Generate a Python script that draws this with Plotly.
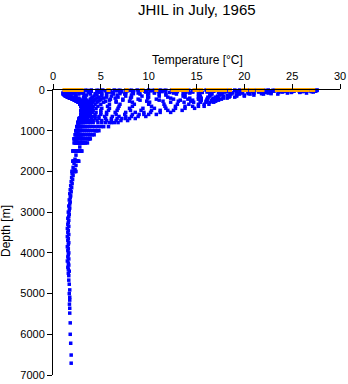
import plotly.graph_objects as go

# Standard observation depths (m) for the first group of casts
std_depths = [0, 10, 20, 30, 50, 75, 100, 150, 200, 250, 300, 400, 500, 600, 700, 800, 1000, 1200, 1500, 2000]

# Temperature (°C) per cast at std_depths (None = not observed)
cast_temps = [
    [27.6, 27.6, 27.5, 27.4, 27.2, 26.5, 23.5, 20.0, 18.2, 17.3, 16.8, 15.8, 13.5, 10.8, 8.6, 6.8, 4.8, 3.9, 3.0, 2.4],
    [27.0, 26.9, 26.7, 26.4, 25.8, 24.5, 22.0, 19.2, 17.8, 17.0, 16.4, 15.2, 12.6, 10.0, 8.0, 6.4, 4.6, 3.8, 3.0, 2.3],
    [26.2, 26.0, 25.7, 25.2, 24.0, 22.5, 20.6, 18.5, 17.3, 16.6, 16.0, 14.6, 12.0, 9.5, 7.6, 6.1, 4.5, 3.7, 2.9, 2.3],
    [25.3, 25.1, 24.8, 24.2, 22.8, 21.0, 19.5, 17.8, 16.8, 16.1, 15.4, 13.8, 11.2, 9.0, 7.2, 5.9, 4.4, 3.6, 2.8, 2.2],
    [24.4, 24.2, 23.8, 23.1, 21.5, 19.8, 18.6, 17.2, 16.2, 15.5, 14.7, 12.8, 10.3, 8.3, 6.7, 5.5, 4.2, 3.4, 2.7, 2.2],
    [23.5, 23.2, 22.7, 22.0, 20.4, 18.8, 17.6, 16.4, 15.5, 14.6, 13.7, 11.7, 9.2, 7.5, 6.1, 5.1, 3.9, 3.3, 2.7, 2.1],
    [22.5, 22.2, 21.6, 20.8, 19.2, 17.7, 16.6, 15.4, 14.3, 13.3, 12.3, 10.3, 8.1, 6.6, 5.5, 4.7, 3.7, 3.1, 2.6, 2.1],
    [21.5, 21.2, 20.5, 19.6, 17.9, 16.4, 15.2, 13.6, 12.3, 11.1, 10.1, 8.3, 6.7, 5.6, 4.8, 4.2, 3.5, 3.0, 2.5, 2.0],
    [20.5, 20.0, 19.2, 18.2, 16.1, 14.3, 12.9, 11.1, 9.9, 9.1, 8.3, 6.9, 5.8, 5.0, 4.4, 3.9, 3.3, 2.9, 2.5, 2.0],
    [19.5, 19.0, 18.0, 16.8, 14.6, 12.6, 11.1, 9.3, 8.1, 7.3, 6.6, 5.7, 5.0, 4.4, 4.0, 3.7, 3.1, 2.8, 2.4, None],
    [18.4, 17.8, 16.8, 15.3, 12.9, 10.6, 9.1, 7.6, 6.5, 5.9, 5.3, 4.7, 4.2, 3.9, 3.6, 3.4, 2.9, 2.6, 2.3, None],
    [17.2, 16.5, 15.2, 13.8, 11.1, 8.9, 7.5, 6.1, 5.3, 4.9, 4.6, 4.2, 3.9, 3.6, 3.4, 3.2, 2.8, 2.5, 2.2, None],
    [16.0, 15.2, 14.0, 12.4, 9.7, 7.6, 6.3, 5.1, 4.6, 4.3, 4.1, 3.9, 3.7, 3.5, 3.3, 3.1, 2.7, 2.5, 2.2, None],
    [14.8, 14.0, 12.8, 11.0, 8.3, 6.3, 5.1, 4.3, 4.0, 3.9, 3.8, 3.7, 3.6, 3.4, 3.2, 3.0, 2.7, 2.4, 2.2, None],
    [13.6, 12.8, 11.4, 9.6, 7.1, 5.1, 3.9, 3.3, 3.4, 3.5, 3.6, 3.6, 3.5, 3.3, 3.1, 2.9, 2.6, 2.4, 2.1, None],
    [12.4, 11.6, 10.2, 8.4, 5.9, 3.9, 2.7, 2.3, 2.7, 3.1, 3.3, 3.4, 3.4, 3.2, 3.0, 2.8, 2.6, 2.3, 2.1, None],
    [11.2, 10.4, 9.0, 7.2, 4.7, 2.9, 1.9, 1.7, 2.3, 2.8, 3.1, 3.3, 3.3, 3.1, 2.9, 2.7, 2.5, 2.3, 2.1, None],
    [10.0, 9.2, 7.8, 6.0, 3.7, 2.1, 1.4, 1.5, 2.1, 2.6, 2.9, 3.2, 3.2, 3.0, 2.8, 2.7, 2.5, 2.3, None, None],
    [8.8, 8.0, 6.6, 5.0, 2.9, 1.6, 1.2, 1.4, 1.9, 2.4, 2.8, 3.1, 3.1, 2.9, 2.8, 2.6, 2.4, 2.2, None, None],
    [7.6, 6.8, 5.5, 4.0, 2.3, 1.3, 1.1, 1.3, 1.8, 2.3, 2.7, 3.0, 3.0, 2.9, 2.8, 2.6, 2.4, 2.2, None, None],
    [6.4, 5.8, 4.6, 3.2, 1.9, 1.2, 1.1, 1.3, 1.7, 2.2, 2.6, 2.9, 2.9, 2.9, 2.7, 2.6, 2.4, None, None, None],
    [5.2, 4.8, 3.8, 2.6, 1.6, 1.1, 1.1, 1.4, 1.8, 2.3, 2.7, 3.0, 3.0, 2.9, 2.8, 2.6, 2.4, None, None, None],
    [4.0, 3.6, 2.8, 2.0, 1.4, 1.1, 1.2, 1.5, 1.9, 2.4, 2.8, 3.0, 3.1, 2.9, 2.8, 2.6, None, None, None, None],
    [2.8, 2.6, 2.2, 1.7, 1.3, 1.1, 1.2, 1.6, 2.0, 2.5, 2.9, 3.1, 3.1, 3.0, 2.8, 2.6, None, None, None, None],
    [1.6, 1.5, 1.4, 1.3, 1.2, 1.1, 1.3, 1.7, 2.1, 2.6, 3.0, 3.2, 3.2, 3.0, 2.8, 2.7, None, None, None, None],
]

# Observation depths (m) for the second group of casts
alt_depths = [5, 40, 60, 90, 125, 175, 225, 275, 350, 450, 550, 650, 750, 900, 1100, 1300, 1750]

# Temperature (°C) per cast at alt_depths
alt_temps = [
    [27.3, 27.0, 25.8, 22.8, 21.0, 19.0, 17.6, 17.0, 16.3, 14.8, 12.3, 9.7, 7.8, 5.8, 4.3, 3.6, 2.7],
    [26.6, 26.1, 24.9, 21.8, 20.0, 18.4, 17.2, 16.6, 15.8, 13.8, 11.2, 8.9, 7.1, 5.3, 4.1, 3.4, 2.6],
    [25.7, 25.0, 23.6, 20.4, 19.2, 17.8, 16.7, 16.0, 15.2, 12.8, 10.2, 8.2, 6.6, 5.0, 3.9, 3.3, 2.6],
    [24.8, 23.9, 22.3, 19.4, 18.2, 17.0, 16.1, 15.4, 14.2, 11.8, 9.5, 7.6, 6.1, 4.7, 3.8, 3.2, 2.5],
    [23.9, 22.8, 21.0, 18.5, 17.4, 16.2, 15.2, 14.4, 13.0, 10.6, 8.6, 6.9, 5.6, 4.4, 3.6, 3.1, 2.5],
    [23.0, 21.6, 19.8, 17.6, 16.4, 15.2, 14.1, 13.1, 11.6, 9.4, 7.6, 6.2, 5.1, 4.1, 3.4, 3.0, 2.4],
    [22.0, 20.4, 18.6, 16.6, 15.3, 13.8, 12.6, 11.5, 10.0, 8.0, 6.5, 5.4, 4.6, 3.8, 3.2, 2.9, 2.4],
    [21.0, 19.2, 17.3, 15.3, 13.8, 12.0, 10.8, 9.8, 8.5, 6.8, 5.6, 4.8, 4.2, 3.6, 3.1, 2.8, 2.3],
    [20.0, 17.8, 15.6, 13.6, 11.8, 10.0, 8.9, 8.0, 7.0, 5.9, 5.0, 4.4, 3.9, 3.4, 3.0, 2.7, 2.3],
    [19.0, 16.3, 13.9, 11.8, 9.9, 8.2, 7.3, 6.6, 5.9, 5.1, 4.5, 4.1, 3.7, 3.3, 2.9, 2.6, 2.2],
    [17.8, 14.6, 12.2, 10.0, 8.2, 6.8, 6.0, 5.5, 5.0, 4.5, 4.1, 3.8, 3.5, 3.1, 2.8, 2.5, 2.2],
    [16.6, 13.0, 10.6, 8.4, 6.7, 5.6, 5.0, 4.7, 4.4, 4.1, 3.8, 3.6, 3.4, 3.0, 2.7, 2.5, 2.1],
    [15.4, 11.4, 9.0, 7.0, 5.6, 4.8, 4.4, 4.2, 4.0, 3.8, 3.6, 3.4, 3.2, 2.9, 2.7, 2.4, 2.1],
    [14.2, 9.8, 7.6, 5.6, 4.6, 4.1, 3.9, 3.8, 3.7, 3.6, 3.4, 3.3, 3.1, 2.9, 2.6, 2.4, 2.1],
    [13.0, 8.4, 6.2, 4.4, 3.5, 3.2, 3.3, 3.4, 3.5, 3.5, 3.4, 3.2, 3.0, 2.8, 2.6, 2.4, None],
    [11.8, 7.0, 4.9, 3.2, 2.4, 2.4, 2.8, 3.1, 3.3, 3.4, 3.3, 3.1, 2.9, 2.7, 2.5, 2.3, None],
    [10.6, 5.8, 3.8, 2.3, 1.7, 1.9, 2.4, 2.8, 3.1, 3.2, 3.2, 3.0, 2.8, 2.6, 2.4, 2.2, None],
    [9.4, 4.7, 2.9, 1.6, 1.3, 1.6, 2.2, 2.6, 2.9, 3.1, 3.1, 3.0, 2.8, 2.6, 2.4, None, None],
    [8.2, 3.7, 2.2, 1.3, 1.2, 1.5, 2.0, 2.5, 2.8, 3.0, 3.0, 2.9, 2.7, 2.5, 2.3, None, None],
    [7.0, 2.9, 1.7, 1.2, 1.2, 1.5, 2.0, 2.4, 2.8, 3.0, 3.0, 2.9, 2.7, 2.5, None, None, None],
    [5.8, 2.3, 1.4, 1.1, 1.2, 1.6, 2.1, 2.5, 2.9, 3.1, 3.0, 2.9, 2.7, 2.5, None, None, None],
    [4.6, 1.9, 1.3, 1.1, 1.3, 1.7, 2.2, 2.6, 3.0, 3.1, 3.1, 2.9, 2.7, None, None, None, None],
    [3.4, 1.6, 1.2, 1.1, 1.4, 1.8, 2.3, 2.7, 3.0, 3.2, 3.1, 3.0, 2.8, None, None, None, None],
    [2.2, 1.4, 1.1, 1.2, 1.5, 1.9, 2.4, 2.8, 3.1, 3.2, 3.1, 3.0, 2.8, None, None, None, None],
]

# Deeper observations (m, °C)
deep_depth = [1100, 1300, 1400, 1600, 1700, 1750, 1800, 1850, 1900, 1950,
              2050, 2100, 2150, 2200, 2250, 2300, 2350, 2400, 2450, 2500,
              2550, 2600, 2650, 2700, 2750, 2800, 2850, 2900, 2950, 3000,
              3050, 3100, 3150, 3200, 3250, 3300, 3350, 3400, 3450, 3500,
              3550, 3600, 3650, 3700, 3750, 3800, 3850, 3900, 3950, 4000,
              4050, 4100, 4150, 4200, 4250, 4300, 4350, 4400, 4450, 4500,
              4560, 4670, 4770, 4910, 5000, 5090, 5160, 5260, 5360, 5480,
              5720, 6000, 6220, 6510, 6710]
deep_temp = [2.9, 2.6, 2.8, 2.4, 2.3, 2.6, 2.2, 2.4, 2.1, 2.3,
             2.0, 2.1, 1.95, 2.05, 1.9, 2.0, 1.85, 1.95, 1.8, 1.9,
             1.75, 1.85, 1.8, 1.7, 1.8, 1.75, 1.65, 1.75, 1.7, 1.6,
             1.7, 1.65, 1.55, 1.65, 1.6, 1.55, 1.65, 1.5, 1.6, 1.55,
             1.65, 1.5, 1.6, 1.55, 1.65, 1.6, 1.5, 1.6, 1.55, 1.65,
             1.6, 1.55, 1.65, 1.5, 1.6, 1.65, 1.55, 1.6, 1.7, 1.6,
             1.65, 1.65, 1.7, 1.75, 1.7, 1.75, 1.75, 1.72, 1.75, 1.75,
             1.8, 1.8, 1.85, 1.9, 1.9]

# Surface (bucket) temperatures (°C) at 0 m
surface_temp = [1.2, 1.4, 1.6, 1.8, 2.0, 2.2, 2.4, 2.6, 2.8, 3.0, 5.8, 7.7, 9.3, 10.8,
                12.5, 12.8, 13.1, 13.4, 13.7, 14.0, 14.8, 15.1, 15.5, 16.2, 16.5, 16.8,
                17.1, 17.4, 17.7, 18.0, 18.5, 19.9, 20.2, 20.7, 20.9, 21.4, 21.6, 21.9,
                23.4, 23.7, 24.0, 24.3, 24.6, 24.9, 25.2, 25.5, 25.8, 26.1, 26.4, 26.6,
                27.0, 27.2]
surface_depth = [0] * len(surface_temp)

x_ticks = [0, 5, 10, 15, 20, 25, 30]
y_ticks = [0, 1000, 2000, 3000, 4000, 5000, 6000, 7000]

blue_t, blue_d = [], []
for depths, group in ((std_depths, cast_temps), (alt_depths, alt_temps)):
    for temps in group:
        for d, t in zip(depths, temps):
            if t is not None:
                blue_t.append(t)
                blue_d.append(d)
blue_t += deep_temp
blue_d += deep_depth

FONT = "Liberation Sans, Arial, sans-serif"

fig = go.Figure()
fig.add_trace(go.Scatter(x=blue_t, y=blue_d, mode="markers", cliponaxis=False,
                         marker=dict(symbol="square", size=3.5, color="#0000FF", line=dict(width=0)),
                         showlegend=False))
fig.add_trace(go.Scatter(x=surface_temp, y=surface_depth, mode="markers", cliponaxis=False,
                         marker=dict(symbol="square", size=4, color="#FFA500", line=dict(width=0)),
                         showlegend=False))

W, H = 348, 384
L, R, T, B = 53, 8, 90, 9
ph = H - T - B
pw = W - L - R

def py(p):
    return (H - B - p) / ph

def px(p):
    return (p - L) / pw

axis_common = dict(ticks="outside", ticklen=5, tickwidth=1, tickcolor="black",
                   showline=True, linecolor="black", linewidth=1, showgrid=False,
                   zeroline=False, tickfont=dict(size=11), automargin=False)

fig.update_layout(
    width=W, height=H,
    margin=dict(l=L, r=R, t=T, b=B, pad=0, autoexpand=False),
    paper_bgcolor="white", plot_bgcolor="white",
    font=dict(family=FONT, size=11, color="black"),
    xaxis=dict(range=[0, 30], side="top", tickvals=x_ticks, **axis_common),
    yaxis=dict(range=[7000, 0], tickvals=y_ticks, **axis_common),
    annotations=[
        dict(text="JHIL in July, 1965", xref="paper", yref="paper", x=px(196.5), y=py(9),
             showarrow=False, font=dict(size=15), xanchor="center", yanchor="middle"),
        dict(text="Temperature [°C]", xref="paper", yref="paper", x=px(197), y=py(60),
             showarrow=False, font=dict(size=12), xanchor="center", yanchor="middle"),
        dict(text="Depth [m]", xref="paper", yref="paper", x=px(6), y=py(231), textangle=-90,
             showarrow=False, font=dict(size=12), xanchor="center", yanchor="middle"),
    ],
)

fig.write_html("out.html", config={"displayModeBar": False},
               post_script="document.body.style.margin='0';")
